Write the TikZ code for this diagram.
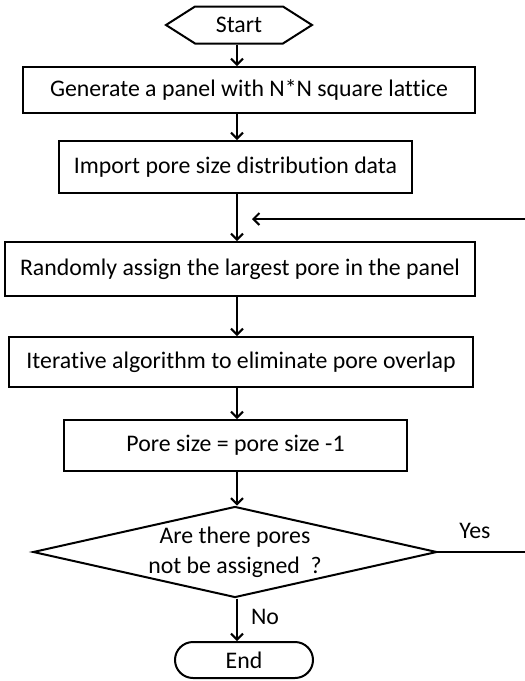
\documentclass[tikz,border=0pt]{standalone}
\usepackage{fontspec}
\setmainfont[Ligatures=NoCommon]{Carlito}
\usetikzlibrary{shapes.geometric,shapes.symbols,shapes.misc,arrows.meta}
\begin{document}
\begin{tikzpicture}[x=1pt,y=-1pt,
  every node/.style={font=\fontsize{23.8}{30}\selectfont},
  box/.style={draw,line width=2pt,rectangle,inner sep=0pt},
  conn/.style={line width=2pt,-{Straight Barb[length=6pt,width=12pt,line width=2pt]}},
  plain/.style={line width=2pt}]
\useasboundingbox (0,0) rectangle (525,681);
\node[draw,line width=2pt,signal,signal to=west and east,signal pointer angle=65,
      minimum width=146pt,minimum height=37pt,inner sep=0pt] (start) at (239,25) {Start};
\node[box,minimum width=452pt,minimum height=46pt] (b1) at (249,90) {Generate a panel with N*N square lattice};
\node[box,minimum width=353pt,minimum height=52pt] (b2) at (235.5,167) {Import pore size distribution data};
\node[box,minimum width=470pt,minimum height=54pt] (b3) at (240,269) {Randomly assign the largest pore in the panel};
\node[box,minimum width=464pt,minimum height=50pt] (b4) at (241,362) {Iterative algorithm to eliminate pore overlap};
\node[box,minimum width=343pt,minimum height=51pt] (b5) at (235.5,445.5) {Pore size = pore size -1};
\node[draw,line width=2pt,diamond,aspect=4.44,minimum width=404pt,minimum height=91pt,
      inner sep=0pt,align=center] (d) at (235,552) {Are there pores\\not be assigned~~?};
\node[draw,line width=2pt,rounded rectangle,minimum width=138pt,minimum height=36pt,inner sep=0pt] (end) at (244,660) {End};
\node (yes) at (475,531) {Yes};
\node (no) at (265,617) {No};
\coordinate (ax) at (237,0);
\coordinate (r1) at (530,552);
\coordinate (r2) at (530,219);
\coordinate (tip) at (252,219);
\draw[conn] (start.south -| ax) -- (b1.north -| ax);
\draw[conn] (b1.south -| ax) -- (b2.north -| ax);
\draw[conn] (b2.south -| ax) -- (b3.north -| ax);
\draw[conn] (b3.south -| ax) -- (b4.north -| ax);
\draw[conn] (b4.south -| ax) -- (b5.north -| ax);
\draw[conn] (b5.south -| ax) -- (d.north -| ax);
\draw[conn] (d.south -| ax) -- (end.north -| ax);
\draw[conn] (d.east) -- (r1) -- (r2) -- (tip);
\end{tikzpicture}
\end{document}
